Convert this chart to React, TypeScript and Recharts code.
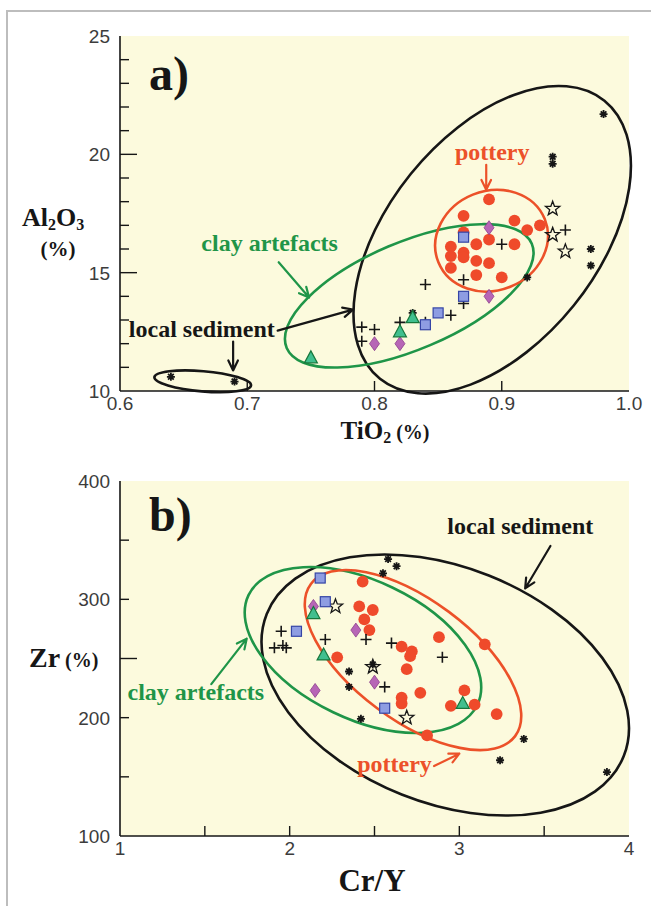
import React from 'react'
import {
  CartesianGrid,
  ReferenceArea,
  ReferenceDot,
  ReferenceLine,
  Scatter,
  ScatterChart,
  XAxis,
  YAxis,
} from 'recharts'

type Pt = { x: number; y: number }
const pt = (x: number, y: number): Pt => ({ x, y })

// ---- a) TiO2 (%) vs Al2O3 (%)
const xTicksA = [0.6, 0.7, 0.8, 0.9, 1.0]
const yTicksA = [10, 11, 12, 13, 14, 15, 16, 17, 18, 19, 20, 21, 22, 23, 24, 25]

const potteryA = [
  pt(0.89, 18.1), pt(0.87, 17.4), pt(0.91, 17.2), pt(0.93, 17.0), pt(0.92, 16.8),
  pt(0.87, 16.7), pt(0.89, 16.4), pt(0.88, 16.2), pt(0.91, 16.2), pt(0.86, 16.1),
  pt(0.87, 15.85), pt(0.86, 15.7), pt(0.87, 15.65), pt(0.88, 15.5), pt(0.89, 15.4),
  pt(0.86, 15.2), pt(0.88, 14.9), pt(0.9, 14.8),
]
const squaresA = [pt(0.87, 16.5), pt(0.87, 14.0), pt(0.85, 13.3), pt(0.84, 12.8)]
const diamondsA = [pt(0.89, 16.9), pt(0.89, 14.0), pt(0.8, 12.0), pt(0.82, 12.0)]
const trianglesA = [pt(0.75, 11.4), pt(0.82, 12.5), pt(0.83, 13.1)]
const plusesA = [
  pt(0.84, 14.5), pt(0.87, 14.7), pt(0.9, 16.2), pt(0.95, 16.8), pt(0.86, 13.2),
  pt(0.87, 13.7), pt(0.82, 12.9), pt(0.84, 12.9), pt(0.79, 12.7), pt(0.8, 12.6), pt(0.79, 12.1),
]
const asterisksA = [
  pt(0.98, 21.7), pt(0.94, 19.9), pt(0.94, 19.6), pt(0.97, 16.0), pt(0.97, 15.3),
  pt(0.92, 14.8), pt(0.64, 10.6), pt(0.69, 10.4), pt(0.83, 13.3),
]
const starsA = [pt(0.94, 17.7), pt(0.94, 16.6), pt(0.95, 15.9)]

// ---- b) Cr/Y vs Zr
const xTicksB = [1, 1.5, 2, 2.5, 3, 3.5, 4]
const yTicksB = [100, 150, 200, 250, 300, 350, 400]

const potteryB = [
  pt(2.43, 315), pt(2.41, 294), pt(2.49, 291), pt(2.44, 283), pt(2.47, 274),
  pt(2.88, 268), pt(3.15, 262), pt(2.66, 260), pt(2.72, 256), pt(2.71, 252),
  pt(2.28, 251), pt(2.69, 241), pt(2.77, 221), pt(2.66, 217), pt(2.66, 212),
  pt(2.95, 210), pt(3.03, 223), pt(3.09, 211), pt(3.22, 203), pt(2.81, 185),
]
const squaresB = [pt(2.18, 318), pt(2.21, 298), pt(2.04, 273), pt(2.56, 208)]
const diamondsB = [pt(2.14, 294), pt(2.39, 274), pt(2.5, 230), pt(2.15, 223)]
const trianglesB = [pt(2.14, 288), pt(2.2, 253), pt(3.02, 212)]
const plusesB = [
  pt(1.95, 273), pt(1.91, 259), pt(1.96, 261), pt(1.98, 259), pt(2.21, 266),
  pt(2.45, 266), pt(2.6, 263), pt(2.9, 251), pt(2.56, 226),
]
const asterisksB = [
  pt(2.58, 334), pt(2.63, 328), pt(2.55, 322), pt(2.35, 239), pt(2.35, 226),
  pt(2.42, 199), pt(3.38, 182), pt(3.24, 164), pt(3.87, 154), pt(2.49, 245),
]
const starsB = [pt(2.27, 294), pt(2.69, 200), pt(2.49, 243)]

// group ellipses: centre, half extent of bounding box, correlation
type Ell = { cx: number; cy: number; hx: number; hy: number; r: number; group: string }
const ellipsesA: Ell[] = [
  { cx: 0.665, cy: 10.41, hx: 0.038, hy: 0.46, r: -0.36, group: 'sediment' },
  { cx: 0.8925, cy: 16.39, hx: 0.109, hy: 6.5, r: 0.48, group: 'sediment' },
  { cx: 0.8273, cy: 14.02, hx: 0.0977, hy: 3.03, r: 0.6, group: 'clay' },
  { cx: 0.892, cy: 16.35, hx: 0.0443, hy: 2.15, r: 0.1, group: 'pottery' },
]
const ellipsesB: Ell[] = [
  { cx: 2.917, cy: 227.6, hx: 1.083, hy: 110.3, r: -0.33, group: 'sediment' },
  { cx: 2.432, cy: 257.2, hx: 0.697, hy: 70.1, r: -0.45, group: 'clay' },
  { cx: 2.727, cy: 248.7, hx: 0.638, hy: 76.1, r: -0.62, group: 'pottery' },
]

type Note = { x: number; y: number; text: string; group: string; anchor?: 'start' | 'middle' }
const notesA: Note[] = [
  { x: 0.6227, y: 22.72, text: 'a)', group: 'panel', anchor: 'start' },
  { x: 0.8925, y: 19.77, text: 'pottery', group: 'pottery' },
  { x: 0.7176, y: 15.93, text: 'clay artefacts', group: 'clay' },
  { x: 0.6643, y: 12.3, text: 'local sediment', group: 'sediment' },
]
const notesB: Note[] = [
  { x: 1.1706, y: 357.7, text: 'b)', group: 'panel', anchor: 'start' },
  { x: 3.359, y: 355.2, text: 'local sediment', group: 'sediment' },
  { x: 1.447, y: 214.9, text: 'clay artefacts', group: 'clay' },
  { x: 2.618, y: 154.0, text: 'pottery', group: 'pottery' },
]

type Arrow = { from: Pt; to: Pt; group: string }
const arrowsA: Arrow[] = [
  { from: pt(0.8878, 19.56), to: pt(0.8878, 18.5), group: 'pottery' },
  { from: pt(0.7247, 15.44), to: pt(0.7486, 13.95), group: 'clay' },
  { from: pt(0.7239, 12.55), to: pt(0.7831, 13.44), group: 'sediment' },
  { from: pt(0.6889, 12.09), to: pt(0.6889, 10.87), group: 'sediment' },
]
const arrowsB: Arrow[] = [
  { from: pt(3.537, 345.1), to: pt(3.388, 309.2), group: 'sediment' },
  { from: pt(1.538, 228.4), to: pt(1.747, 266.8), group: 'clay' },
  { from: pt(2.851, 159.1), to: pt(3.0, 169.6), group: 'pottery' },
]

const INK = '#161616'
const GREEN = '#1f9548'
const ORANGE = '#ec5129'
const CREAM = '#fcfadd'
const serif = '"Liberation Serif", "Times New Roman", serif'
const sans = '"Liberation Sans", Arial, sans-serif'
const groupColor: Record<string, string> = { sediment: INK, clay: GREEN, pottery: ORANGE, panel: INK }

// ---- markers
const RedDot = (p: any) => <circle cx={p.cx} cy={p.cy} r={5.9} fill="#ef4a2b" />
const BlueSquare = (p: any) => (
  <rect x={p.cx - 5} y={p.cy - 5} width={10} height={10} fill="#8e9de2" stroke="#3545a6" strokeWidth={1.2} />
)
const PurpleDiamond = (p: any) => (
  <polygon
    points={`${p.cx},${p.cy - 7} ${p.cx + 5},${p.cy} ${p.cx},${p.cy + 7} ${p.cx - 5},${p.cy}`}
    fill="#b765b6"
    stroke="#8c3e8c"
    strokeWidth={0.8}
  />
)
const GreenTriangle = (p: any) => (
  <polygon
    points={`${p.cx},${p.cy - 7} ${p.cx + 6.5},${p.cy + 5} ${p.cx - 6.5},${p.cy + 5}`}
    fill="#40bf8e"
    stroke="#17773c"
    strokeWidth={1.2}
  />
)
const Plus = (p: any) => (
  <path
    d={`M${p.cx - 5.5},${p.cy}H${p.cx + 5.5}M${p.cx},${p.cy - 5.5}V${p.cy + 5.5}`}
    stroke={INK}
    strokeWidth={1.6}
  />
)
const Asterisk = (p: any) => {
  const s = 4
  const d = s * 0.707
  return (
    <path
      d={`M${p.cx - s},${p.cy}H${p.cx + s}M${p.cx},${p.cy - s}V${p.cy + s}M${p.cx - d},${p.cy - d}L${p.cx + d},${p.cy + d}M${p.cx - d},${p.cy + d}L${p.cx + d},${p.cy - d}`}
      stroke={INK}
      strokeWidth={1.8}
    />
  )
}
const OpenStar = (p: any) => {
  const pts: string[] = []
  for (let i = 0; i < 10; i++) {
    const rad = i % 2 === 0 ? 7.5 : 3.1
    const a = (Math.PI / 5) * i - Math.PI / 2
    pts.push(`${p.cx + rad * Math.cos(a)},${p.cy + rad * Math.sin(a)}`)
  }
  return <polygon points={pts.join(' ')} fill="none" stroke={INK} strokeWidth={1.3} />
}

// ellipse drawn inside the reference area's pixel box
function EllipseShape(props: any) {
  const { x, y, width, height, r, color } = props
  const hx = width / 2
  const hy = height / 2
  const cx = x + hx
  const cy = y + hy
  const a = hx * hx
  const c = hy * hy
  const b = -r * hx * hy
  const mid = (a + c) / 2
  const d = Math.sqrt(((a - c) / 2) ** 2 + b * b)
  const ang = (0.5 * Math.atan2(2 * b, a - c) * 180) / Math.PI
  return (
    <ellipse
      cx={cx}
      cy={cy}
      rx={Math.sqrt(mid + d)}
      ry={Math.sqrt(Math.max(mid - d, 0))}
      transform={`rotate(${ang} ${cx} ${cy})`}
      fill="none"
      stroke={color}
      strokeWidth={2.6}
    />
  )
}

function ArrowShape(props: any) {
  const { x1, y1, x2, y2, color } = props
  const ang = Math.atan2(y2 - y1, x2 - x1)
  const L = 11
  const spread = 0.45
  const ax = x2 - L * Math.cos(ang - spread)
  const ay = y2 - L * Math.sin(ang - spread)
  const bx = x2 - L * Math.cos(ang + spread)
  const by = y2 - L * Math.sin(ang + spread)
  return (
    <path
      d={`M${x1},${y1}L${x2},${y2}M${ax},${ay}L${x2},${y2}L${bx},${by}`}
      fill="none"
      stroke={color}
      strokeWidth={2.2}
      strokeLinecap="round"
      strokeLinejoin="round"
    />
  )
}

type Side = 'bottom' | 'top' | 'left' | 'right'
function tickRenderer(
  side: Side,
  lo: number,
  hi: number,
  label: (v: number) => string | null,
  len: (v: number) => number,
) {
  return (props: any) => {
    const { x, y, payload } = props
    const v: number = payload.value
    const L = Math.abs(v - lo) < 1e-9 || Math.abs(v - hi) < 1e-9 ? 0 : len(v)
    const text = label(v)
    let line: React.ReactNode = null
    let t: React.ReactNode = null
    const tp = { fontFamily: sans, fontSize: 19, fill: '#3c3c3c' }
    if (side === 'bottom') {
      line = <line x1={x} y1={y} x2={x} y2={y - L} stroke={INK} strokeWidth={1.4} />
      if (text) t = <text x={x} y={y + 19} textAnchor="middle" {...tp}>{text}</text>
    } else if (side === 'top') {
      line = <line x1={x} y1={y} x2={x} y2={y + L} stroke={INK} strokeWidth={1.4} />
    } else if (side === 'left') {
      line = <line x1={x} y1={y} x2={x + L} y2={y} stroke={INK} strokeWidth={1.4} />
      if (text) t = <text x={x - 10} y={y + 7} textAnchor="end" {...tp}>{text}</text>
    } else {
      line = <line x1={x} y1={y} x2={x - L} y2={y} stroke={INK} strokeWidth={1.4} />
    }
    return (
      <g>
        {L > 0 && line}
        {t}
      </g>
    )
  }
}

const frame = { stroke: INK, strokeWidth: 1.6 }
const axisCommon = {
  type: 'number' as const,
  allowDataOverflow: true,
  interval: 0 as const,
  tickSize: 0,
  tickMargin: 0,
  tickLine: false,
  axisLine: frame,
}

function Panel({
  xDomain, yDomain, xTicks, yTicks, xLabel, yLabel, yLen, ellipses, notes, arrows, series,
  width, height, margin, xHeight,
}: any) {
  return (
    <ScatterChart width={width} height={height} margin={margin}>
      <CartesianGrid fill={CREAM} horizontal={false} vertical={false} />
      <XAxis {...axisCommon} dataKey="x" domain={xDomain} ticks={xTicks} height={xHeight}
        tick={tickRenderer('bottom', xDomain[0], xDomain[1], xLabel, () => 10)} />
      <XAxis {...axisCommon} xAxisId="top" orientation="top" domain={xDomain} ticks={xTicks} height={0}
        tick={tickRenderer('top', xDomain[0], xDomain[1], () => null, () => 10)} />
      <YAxis {...axisCommon} dataKey="y" domain={yDomain} ticks={yTicks} width={120}
        tick={tickRenderer('left', yDomain[0], yDomain[1], yLabel, yLen)} />
      <YAxis {...axisCommon} yAxisId="right" orientation="right" domain={yDomain} ticks={yTicks} width={0}
        tick={tickRenderer('right', yDomain[0], yDomain[1], () => null, yLen)} />
      {ellipses.map((e: Ell, i: number) => (
        <ReferenceArea
          key={'e' + i}
          x1={e.cx - e.hx}
          x2={e.cx + e.hx}
          y1={e.cy - e.hy}
          y2={e.cy + e.hy}
          ifOverflow="hidden"
          shape={(p: any) => <EllipseShape {...p} r={e.r} color={groupColor[e.group]} />}
        />
      ))}
      {series.map((s: any, i: number) => (
        <Scatter key={'s' + i} data={s.data} shape={s.shape} isAnimationActive={false} />
      ))}
      {arrows.map((a: Arrow, i: number) => (
        <ReferenceLine
          key={'a' + i}
          segment={[a.from, a.to]}
          ifOverflow="visible"
          shape={(p: any) => <ArrowShape {...p} color={groupColor[a.group]} />}
        />
      ))}
      {notes.map((n: Note, i: number) => (
        <ReferenceDot
          key={'n' + i}
          x={n.x}
          y={n.y}
          r={0}
          ifOverflow="visible"
          shape={(p: any) => (
            <text
              x={p.cx}
              y={p.cy}
              textAnchor={n.anchor ?? 'middle'}
              fontFamily={serif}
              fontWeight="bold"
              fontSize={n.group === 'panel' ? 48 : 24}
              fill={groupColor[n.group]}
            >
              {n.text}
            </text>
          )}
        />
      ))}
    </ScatterChart>
  )
}

export default function App() {
  const seriesA = [
    { data: asterisksA, shape: Asterisk },
    { data: starsA, shape: OpenStar },
    { data: potteryA, shape: RedDot },
    { data: plusesA, shape: Plus },
    { data: squaresA, shape: BlueSquare },
    { data: diamondsA, shape: PurpleDiamond },
    { data: trianglesA, shape: GreenTriangle },
  ]
  const seriesB = [
    { data: asterisksB, shape: Asterisk },
    { data: starsB, shape: OpenStar },
    { data: potteryB, shape: RedDot },
    { data: plusesB, shape: Plus },
    { data: squaresB, shape: BlueSquare },
    { data: diamondsB, shape: PurpleDiamond },
    { data: trianglesB, shape: GreenTriangle },
  ]
  const titleFont = { fontFamily: serif, fontWeight: 'bold' as const, fill: INK }
  return (
    <div style={{ position: 'absolute', left: 0, top: 0, width: 651, height: 906, background: '#fff', overflow: 'hidden' }}>
      <div style={{ position: 'absolute', left: 0, top: 0 }}>
        <Panel
          width={651} height={450} margin={{ top: 36, right: 22, bottom: 0, left: 0 }} xHeight={59}
          xDomain={[0.6, 1.0]} yDomain={[10, 25]} xTicks={xTicksA} yTicks={yTicksA}
          xLabel={(v: number) => v.toFixed(1)}
          yLabel={(v: number) => (v % 5 === 0 ? String(v) : null)}
          yLen={(v: number) => (v % 5 === 0 ? 17 : 9)}
          ellipses={ellipsesA} notes={notesA} arrows={arrowsA} series={seriesA}
        />
      </div>
      <div style={{ position: 'absolute', left: 0, top: 450 }}>
        <Panel
          width={651} height={456} margin={{ top: 31, right: 22, bottom: 0, left: 0 }} xHeight={70}
          xDomain={[1, 4]} yDomain={[100, 400]} xTicks={xTicksB} yTicks={yTicksB}
          xLabel={(v: number) => (Number.isInteger(v) ? String(v) : null)}
          yLabel={(v: number) => (v % 100 === 0 ? String(v) : null)}
          yLen={(v: number) => (v === 250 ? 17 : 9)}
          ellipses={ellipsesB} notes={notesB} arrows={arrowsB} series={seriesB}
        />
      </div>
      <svg width={651} height={906} style={{ position: 'absolute', left: 0, top: 0, pointerEvents: 'none' }}>
        <path d="M7,906V11H651" fill="none" stroke="#bdbdbd" strokeWidth={2} />
        <text x={22} y={226} fontSize={26} {...titleFont}>
          Al<tspan fontSize={16} dy={4}>2</tspan><tspan dy={-4}>O</tspan><tspan fontSize={16} dy={4}>3</tspan>
        </text>
        <text x={58} y={256} fontSize={21} textAnchor="middle" {...titleFont}>(%)</text>
        <text x={385} y={439} fontSize={25} textAnchor="middle" {...titleFont}>
          TiO<tspan fontSize={16} dy={4}>2</tspan><tspan fontSize={20} dy={-4}> (%)</tspan>
        </text>
        <text x={29} y={667} fontSize={28} {...titleFont}>
          Zr<tspan fontSize={20}> (%)</tspan>
        </text>
        <text x={372} y={891} fontSize={31} textAnchor="middle" {...titleFont}>Cr/Y</text>
      </svg>
    </div>
  )
}
